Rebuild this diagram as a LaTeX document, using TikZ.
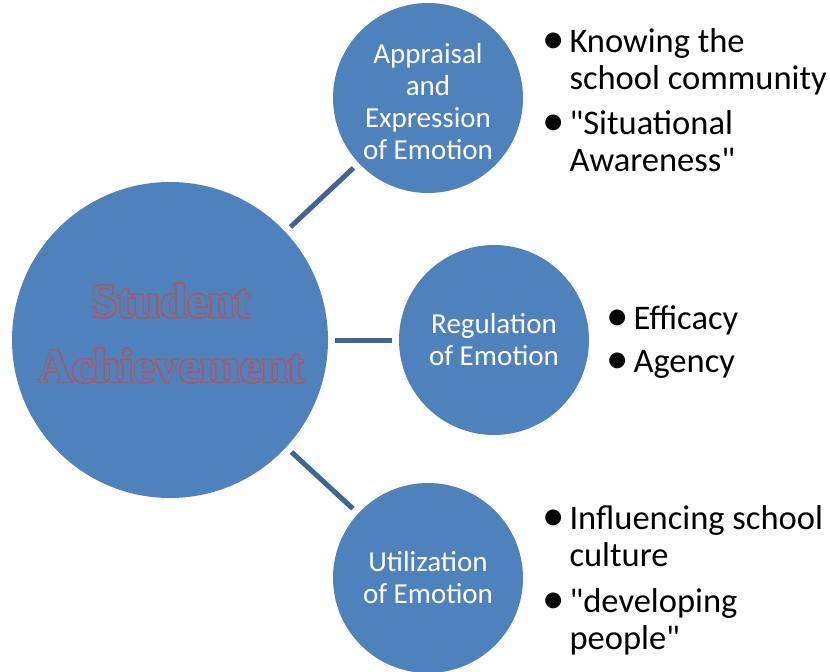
\documentclass[tikz,border=0pt]{standalone}
\usepackage{fontspec}
\setmainfont{Carlito}[Ligatures=TeXOff]
\newfontfamily\titlefont{Liberation Serif}[Ligatures=TeXOff]
\usepackage[copies]{contour}
\contourlength{0.7pt}
\contournumber{32}
\definecolor{cblue}{HTML}{4F81BD}
\definecolor{lblue}{HTML}{3D6597}
\definecolor{ored}{HTML}{C0504D}
\newcommand{\bigbul}{\raisebox{-0.05em}{\scalebox{1.3}{•}}}
\begin{document}
\begin{tikzpicture}[x=1pt,y=-1pt,
  bigc/.style={circle,fill=cblue,minimum size=316pt,inner sep=0pt},
  smallc/.style={circle,fill=cblue,minimum size=190pt,inner sep=0pt,text=white,
     align=center,font=\fontsize{29}{32}\selectfont},
  conn/.style={draw=lblue,line width=5pt,shorten <=7pt,shorten >=7pt},
  blist/.style={anchor=north west,inner sep=0pt,align=left,font=\fontsize{34.5}{37}\selectfont}]
\useasboundingbox (0,0) rectangle (830,672);
\node[bigc] (big) at (170,340) {};
\node[smallc] (c1) at (428,98) {\\[-4pt]Appraisal\\and\\Expression\\of Emotion};
\node[smallc] (c2) at (494,340) {Regulation\\of Emotion};
\node[smallc] (c3) at (428,578) {Utilization\\of Emotion};
\node[align=center,inner sep=0pt,font={\titlefont\bfseries\fontsize{48}{65}\selectfont}] (t) at (171,334)
  {\contour{ored}{\textcolor{cblue}{Student}}\\\contour{ored}{\textcolor{cblue}{Achievement}}};
\draw[conn] (big) -- (c1);
\draw[conn] (big) -- (c2);
\draw[conn] (big) -- (c3);
\node[blist] (l1) at (542,26) {%
  \begin{tabular}{@{}l@{\hspace{5pt}}l@{}}
  \bigbul & Knowing the\\ & school community\\[8pt]
  \bigbul & "Situational\\ & Awareness"
  \end{tabular}};
\node[blist] (l2) at (606,303) {%
  \begin{tabular}{@{}l@{\hspace{5pt}}l@{}}
  \bigbul & Efficacy\\[6pt]
  \bigbul & Agency
  \end{tabular}};
\node[blist] (l3) at (542,503) {%
  \begin{tabular}{@{}l@{\hspace{5pt}}l@{}}
  \bigbul & Influencing school\\ & culture\\[9pt]
  \bigbul & "developing\\ & people"
  \end{tabular}};
\end{tikzpicture}
\end{document}
